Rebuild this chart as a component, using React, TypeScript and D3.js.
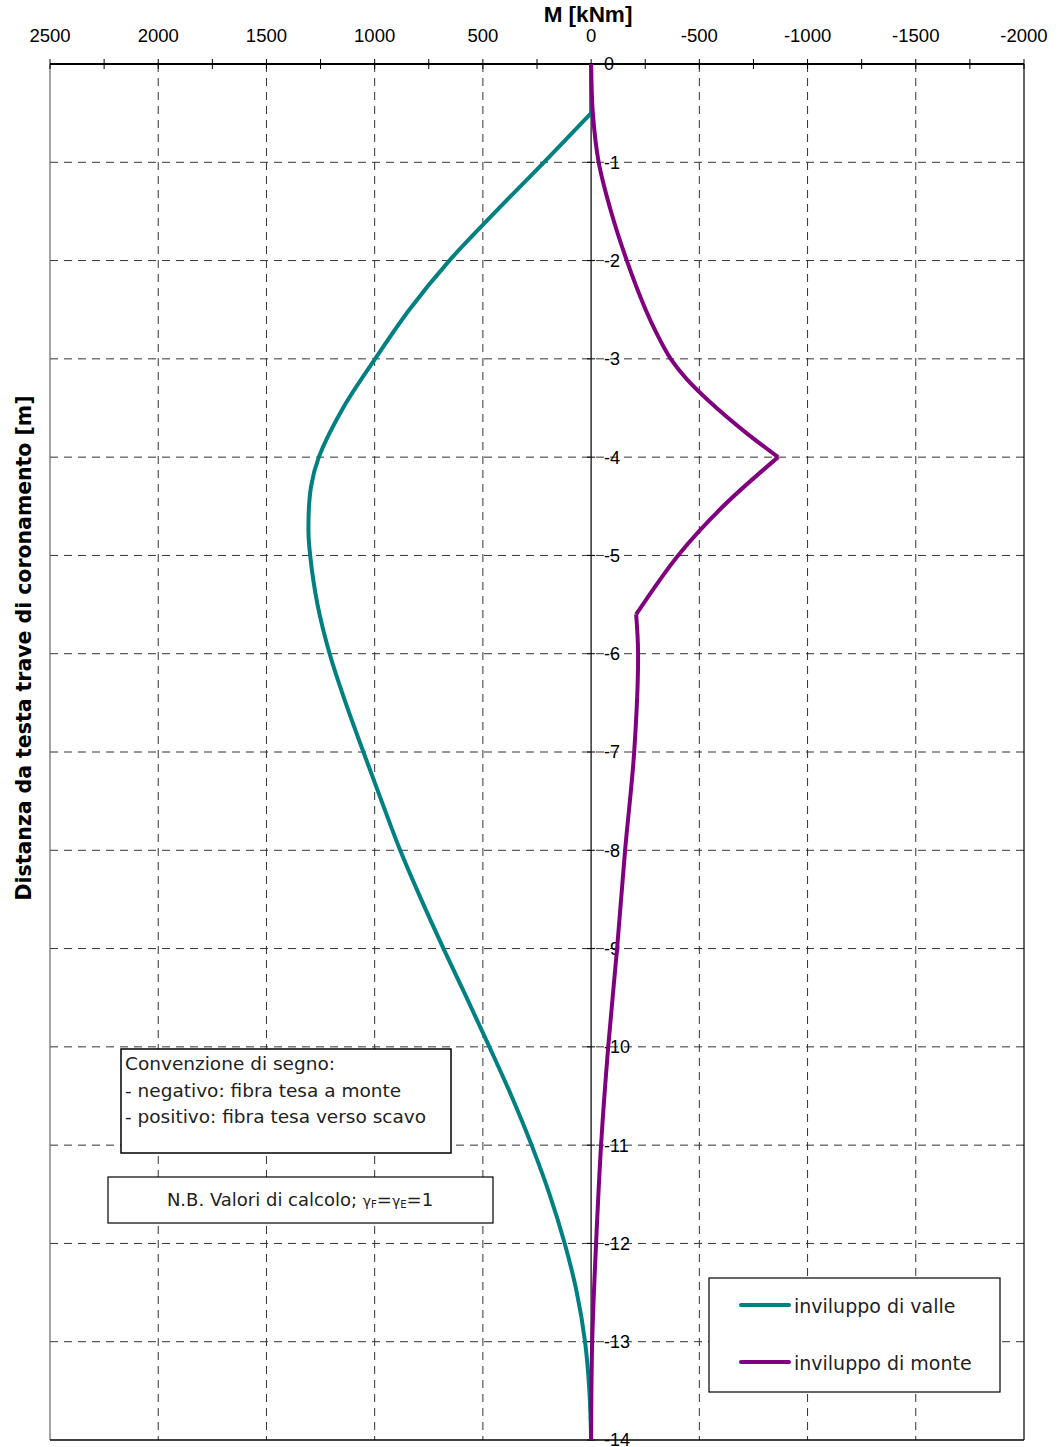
import React from "react";
import * as d3 from "d3";

// Bending moment envelopes along the diaphragm wall (depth in m, M in kNm)
const depthValle = [0, 0.5, 1, 1.5, 2, 2.5, 3, 3.5, 4, 4.3, 4.75, 5, 5.5, 6, 6.5, 7, 7.5, 8, 8.5, 9, 9.5, 10, 10.5, 11, 11.5, 12, 12.5, 13, 13.5, 14];
const momentValle = [0, 0, 218, 440, 655, 840, 998, 1146, 1258, 1294, 1306, 1298, 1264, 1208, 1134, 1052, 968, 882, 785, 682, 575, 470, 368, 275, 192, 122, 66, 28, 8, 0];

const depthMonteA = [0, 0.5, 1, 1.5, 2, 2.5, 2.75, 3, 3.25, 3.5, 3.75, 4];
const momentMonteA = [0, -8, -35, -92, -165, -252, -305, -368, -460, -580, -715, -864];
const depthMonteB = [4, 4.5, 5, 5.6];
const momentMonteB = [-864, -610, -402, -208];
const depthMonteC = [5.6, 6, 7, 8, 9, 10, 11, 12, 13, 14];
const momentMonteC = [-208, -217, -199, -157, -120, -79, -46, -23, -5, 0];

const xTicks = [2500, 2000, 1500, 1000, 500, 0, -500, -1000, -1500, -2000];
const xMinorTicks = d3.range(2500, -2001, -250);
const yTicks = d3.range(0, 15, 1);

const W = 1058;
const H = 1447;
const left = 50;
const right = 1024;
const top = 64;
const bottom = 1440;

const TEAL = "#008080";
const PURPLE = "#800080";
const FONT = "'Liberation Sans', Arial, sans-serif";
const TEXT_FONT = "'DejaVu Sans', 'Liberation Sans', sans-serif";

export default function App() {
  const x = d3.scaleLinear().domain([2500, -2000]).range([left, right]);
  const y = d3.scaleLinear().domain([0, 14]).range([top, bottom]);

  const line = d3
    .line<[number, number]>()
    .x((d) => x(d[1]))
    .y((d) => y(d[0]))
    .curve(d3.curveCatmullRom.alpha(0.5));

  const pairs = (ds: number[], ms: number[]) => ds.map((d, i) => [d, ms[i]] as [number, number]);

  const valleHead = pairs(depthValle.slice(0, 2), momentValle.slice(0, 2));
  const valleBody = pairs(depthValle.slice(1), momentValle.slice(1));

  return (
    <svg width={W} height={H} style={{ display: "block", position: "absolute", left: 0, top: 0, background: "#fff" }}>
      <rect x={0} y={0} width={W} height={H} fill="#fff" />
      {/* vertical grid */}
      {xTicks
        .filter((t) => t !== 0 && t !== 2500 && t !== -2000)
        .map((t) => (
          <line key={"gx" + t} x1={x(t)} x2={x(t)} y1={top} y2={bottom} stroke="#333" strokeWidth={1} strokeDasharray="8,6" />
        ))}
      {/* horizontal grid */}
      {yTicks
        .filter((t) => t > 0 && t < 14)
        .map((t) => (
          <line key={"gy" + t} x1={left} x2={right} y1={y(t)} y2={y(t)} stroke="#333" strokeWidth={1} strokeDasharray="8,6" />
        ))}

      {/* frame */}
      <line x1={left} x2={left} y1={top} y2={bottom} stroke="#666" strokeWidth={1.2} />
      <line x1={right} x2={right} y1={top} y2={bottom} stroke="#000" strokeWidth={1.2} />
      <line x1={left} x2={right} y1={bottom} y2={bottom} stroke="#000" strokeWidth={1.5} />

      {/* vertical axis at M = 0 */}
      <line x1={x(0)} x2={x(0)} y1={top} y2={bottom} stroke="#000" strokeWidth={1.2} />
      {yTicks.map((t) => (
        <line key={"yt" + t} x1={x(0) - 4} x2={x(0) + 4} y1={y(t)} y2={y(t)} stroke="#000" strokeWidth={1} />
      ))}
      {yTicks.map((t) => (
        <text key={"yl" + t} x={x(0) + 13} y={y(t)} dy="0.36em" fontFamily={FONT} fontSize={18} fill="#000">
          {t === 0 ? "0" : "-" + t}
        </text>
      ))}

      {/* top axis */}
      <line x1={left} x2={right} y1={top} y2={top} stroke="#000" strokeWidth={2} />
      {xMinorTicks.map((t) => (
        <line key={"xt" + t} x1={x(t)} x2={x(t)} y1={top - 5} y2={top + 5} stroke="#000" strokeWidth={1} />
      ))}
      {xTicks.map((t) => (
        <text key={"xl" + t} x={x(t)} y={42} textAnchor="middle" fontFamily={FONT} fontSize={18.5} fill="#000">
          {t}
        </text>
      ))}
      <text x={588} y={22} textAnchor="middle" fontFamily={FONT} fontWeight="bold" fontSize={22.5} fill="#000">
        M [kNm]
      </text>
      <text
        transform={`translate(31, 648) rotate(-90)`}
        textAnchor="middle"
        fontFamily={TEXT_FONT}
        fontWeight="bold"
        fontSize={21}
        textLength={505}
        lengthAdjust="spacingAndGlyphs"
        fill="#000"
      >
        Distanza da testa trave di coronamento [m]
      </text>

      {/* envelopes */}
      <path d={line(valleHead) ?? ""} fill="none" stroke={TEAL} strokeWidth={4} strokeLinejoin="round" />
      <path d={line(valleBody) ?? ""} fill="none" stroke={TEAL} strokeWidth={4} strokeLinejoin="round" />
      <path d={line(pairs(depthMonteA, momentMonteA)) ?? ""} fill="none" stroke={PURPLE} strokeWidth={4} strokeLinejoin="round" />
      <path d={line(pairs(depthMonteB, momentMonteB)) ?? ""} fill="none" stroke={PURPLE} strokeWidth={4} strokeLinejoin="round" />
      <path d={line(pairs(depthMonteC, momentMonteC)) ?? ""} fill="none" stroke={PURPLE} strokeWidth={4} strokeLinejoin="round" />

      {/* sign convention note */}
      <rect x={121} y={1049} width={330} height={104} fill="#fff" stroke="#000" strokeWidth={1.5} />
      <g fontFamily={TEXT_FONT} fontSize={18.5} fill="#222">
        <text x={125} y={1070}>Convenzione di segno:</text>
        <text x={125} y={1097}>- negativo: fibra tesa a monte</text>
        <text x={125} y={1123}>- positivo: fibra tesa verso scavo</text>
      </g>
      <rect x={108} y={1177} width={385} height={46} fill="#fff" stroke="#000" strokeWidth={1.2} />
      <text x={300} y={1206} textAnchor="middle" fontFamily={TEXT_FONT} fontSize={18} fill="#222">
        N.B. Valori di calcolo;{" "}
        <tspan fontSize={14}>γ</tspan>
        <tspan fontSize={10} dy={2}>F</tspan>
        <tspan fontSize={18} dy={-2}>=</tspan>
        <tspan fontSize={14}>γ</tspan>
        <tspan fontSize={10} dy={2}>E</tspan>
        <tspan fontSize={18} dy={-2}>=1</tspan>
      </text>

      {/* legend */}
      <rect x={709} y={1278} width={291} height={114} fill="#fff" stroke="#000" strokeWidth={1.2} />
      <line x1={741} x2={789} y1={1305} y2={1305} stroke={TEAL} strokeWidth={4} strokeLinecap="round" />
      <line x1={741} x2={789} y1={1362} y2={1362} stroke={PURPLE} strokeWidth={4} strokeLinecap="round" />
      <g fontFamily={TEXT_FONT} fontSize={19} fill="#222">
        <text x={794} y={1313}>inviluppo di valle</text>
        <text x={794} y={1370}>inviluppo di monte</text>
      </g>
    </svg>
  );
}
